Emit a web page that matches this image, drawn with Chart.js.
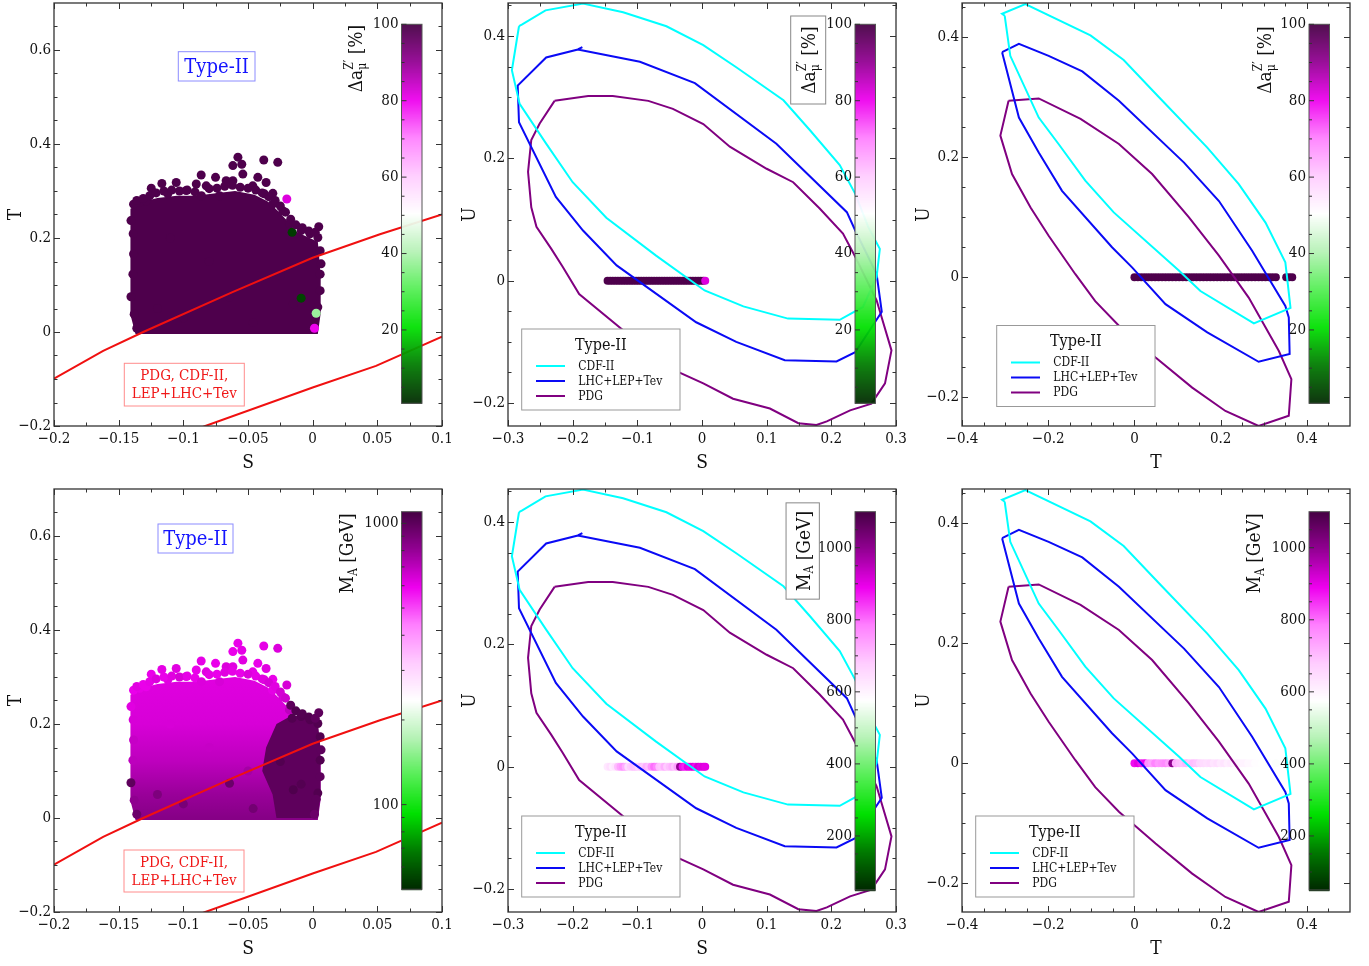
<!DOCTYPE html>
<html>
<head>
<meta charset="utf-8">
<script src="https://cdn.jsdelivr.net/npm/chart.js@4.4.1/dist/chart.umd.min.js"></script>
<style>
html, body { margin: 0; padding: 0; background: #fff; width: 1369px; height: 966px; overflow: hidden; }
canvas { position: absolute; }
</style>
</head>
<body>
<canvas id="p1"></canvas>
<canvas id="p2"></canvas>
<canvas id="p3"></canvas>
<canvas id="p4"></canvas>
<canvas id="p5"></canvas>
<canvas id="p6"></canvas>
<script>
// ---- data ----

// S-T plane: the two red constraint lines
var st1S = [-0.2, -0.162, -0.131, -0.062, 0.0, 0.052, 0.1];
var st1T = [-0.099, -0.040, 0.0, 0.085, 0.158, 0.208, 0.25];
var st2S = [-0.09, -0.083, 0.0, 0.049, 0.1];
var st2T = [-0.207, -0.200, -0.118, -0.072, -0.010];

// S-U plane contours
var cdfSU_S = [-0.283, -0.278, -0.242, -0.184, -0.122, -0.055, 0.002, 0.053, 0.126, 0.167, 0.213, 0.237, 0.257, 0.275, 0.270, 0.249, 0.213, 0.133, 0.064, 0.004, -0.071, -0.148, -0.200, -0.241, -0.282, -0.294, -0.283];
var cdfSU_U = [0.416, 0.419, 0.442, 0.453, 0.439, 0.416, 0.385, 0.349, 0.295, 0.246, 0.189, 0.142, 0.088, 0.052, 0.006, -0.043, -0.064, -0.062, -0.042, -0.016, 0.041, 0.103, 0.161, 0.224, 0.289, 0.344, 0.416];
var lhcSU_S = [-0.185, -0.192, -0.241, -0.285, -0.283, -0.226, -0.184, -0.132, -0.009, 0.053, 0.128, 0.208, 0.237, 0.278, 0.270, 0.237, 0.224, 0.115, -0.011, -0.096, -0.192];
var lhcSU_U = [0.382, 0.378, 0.365, 0.319, 0.259, 0.137, 0.082, 0.025, -0.068, -0.100, -0.130, -0.132, -0.117, -0.051, 0.011, 0.082, 0.112, 0.224, 0.323, 0.358, 0.378];
var pdgSU_S = [-0.228, -0.176, -0.138, -0.083, -0.045, 0.002, 0.043, 0.100, 0.141, 0.182, 0.218, 0.237, 0.270, 0.293, 0.283, 0.262, 0.229, 0.193, 0.177, 0.149, 0.105, 0.048, 0.002, -0.071, -0.122, -0.190, -0.215, -0.233, -0.256, -0.264, -0.269, -0.264, -0.251, -0.228];
var pdgSU_U = [0.294, 0.302, 0.302, 0.294, 0.281, 0.256, 0.219, 0.183, 0.161, 0.118, 0.077, 0.039, -0.032, -0.114, -0.168, -0.201, -0.212, -0.230, -0.236, -0.233, -0.209, -0.193, -0.168, -0.133, -0.081, -0.022, 0.022, 0.052, 0.088, 0.120, 0.178, 0.230, 0.257, 0.294];

// T-U plane contours
var cdfTU_T = [-0.301, -0.307, -0.253, -0.102, -0.025, 0.057, 0.169, 0.242, 0.304, 0.350, 0.362, 0.277, 0.153, 0.103, -0.048, -0.114, -0.176, -0.222, -0.288, -0.301];
var cdfTU_U = [0.436, 0.439, 0.455, 0.403, 0.362, 0.300, 0.216, 0.155, 0.091, 0.025, -0.051, -0.077, -0.023, 0.011, 0.108, 0.161, 0.222, 0.266, 0.369, 0.436];
var lhcTU_T = [-0.307, -0.268, -0.199, -0.121, -0.036, 0.115, 0.196, 0.273, 0.350, 0.358, 0.360, 0.288, 0.169, 0.072, -0.005, -0.052, -0.168, -0.222, -0.268, -0.307];
var lhcTU_U = [0.375, 0.389, 0.369, 0.343, 0.294, 0.191, 0.127, 0.044, -0.048, -0.067, -0.128, -0.141, -0.092, -0.045, 0.016, 0.050, 0.144, 0.208, 0.266, 0.375];
var pdgTU_T = [-0.292, -0.222, -0.125, -0.036, 0.041, 0.126, 0.196, 0.265, 0.335, 0.364, 0.358, 0.288, 0.211, 0.134, 0.049, -0.036, -0.091, -0.137, -0.199, -0.241, -0.284, -0.311, -0.292];
var pdgTU_U = [0.294, 0.298, 0.264, 0.222, 0.172, 0.100, 0.036, -0.034, -0.123, -0.170, -0.231, -0.248, -0.223, -0.184, -0.134, -0.081, -0.040, 0.005, 0.069, 0.116, 0.172, 0.236, 0.294];

// dense body of the scan points in the S-T plane (outline), and its dark right part (M_A panel)
var blobS = [-0.1370, -0.1412, -0.1410, -0.1412, -0.1405, -0.1330, -0.1200, -0.1050, -0.0900, -0.0750, -0.0600, -0.0450, -0.0350, -0.0270, -0.0200, -0.0120, -0.0040, 0.0040, 0.0062, 0.0062, 0.0040, -0.1370];
var blobT = [-0.004, 0.040, 0.120, 0.200, 0.262, 0.276, 0.285, 0.290, 0.290, 0.295, 0.300, 0.292, 0.278, 0.258, 0.238, 0.212, 0.202, 0.192, 0.120, 0.040, -0.004, -0.004];
var darkS = [-0.028, -0.031, -0.039, -0.036, -0.028, -0.020, -0.012, -0.004, 0.004, 0.006, 0.006, 0.004, -0.028];
var darkT = [0.000, 0.050, 0.100, 0.150, 0.200, 0.212, 0.218, 0.214, 0.205, 0.150, 0.050, 0.000, 0.000];
var gradT = [0.37, 0.20, 0.12, 0.05, 0.0];
var gradMa = [610, 640, 700, 790, 850];

// individual scan points (ragged edges, outliers)
var ptS = [-0.0578, -0.0617, -0.0548, -0.0378, -0.0270, -0.0862, -0.0751, -0.0540, -0.0424, -0.0360, -0.1248, -0.1166, -0.1055, -0.0900, -0.0669, -0.0373, -0.0308, -0.0200, -0.0231, -0.0310,
    -0.0180, -0.0089, -0.0020, 0.0047, 0.0040, 0.0058, 0.0065, 0.0058, 0.0058, 0.0040, 0.0027, 0.0014, -0.1385, -0.1405, -0.1388, -0.1385, -0.1390, -0.1405, -0.1380, -0.1360,
    -0.1338, -0.1287, -0.1120, -0.0978, -0.0823, -0.0720, -0.0617, -0.0463, -0.0159, -0.0089, -0.0643, -0.1200, -0.1000, -0.0460, -0.0800, -0.1100, -0.0500, -0.0250, -0.0150,
    -0.1360, -0.1310, -0.1260, -0.1210, -0.1150, -0.1090, -0.1030, -0.0970, -0.0910, -0.0860, -0.0800, -0.0740, -0.0680, -0.0620, -0.0560, -0.0500, -0.0440, -0.0390, -0.0340,
    -0.0290, -0.0250, -0.0210, -0.0170, -0.0130, -0.0080, -0.0030, 0.0020];
var ptT = [0.372, 0.354, 0.357, 0.366, 0.361, 0.334, 0.329, 0.336, 0.329, 0.318, 0.306, 0.316, 0.318, 0.315, 0.322, 0.294, 0.295, 0.283, 0.258, 0.272,
    0.230, 0.216, 0.209, 0.224, 0.201, 0.173, 0.145, 0.123, 0.088, 0.053, 0.040, 0.008, 0.272, 0.237, 0.209, 0.166, 0.123, 0.075, 0.038, 0.008,
    0.276, 0.279, 0.294, 0.301, 0.311, 0.290, 0.322, 0.311, 0.212, 0.072, 0.074, 0.050, 0.030, 0.020, 0.150, 0.200, 0.100, 0.120, 0.060,
    0.280, 0.284, 0.290, 0.296, 0.300, 0.302, 0.300, 0.302, 0.298, 0.290, 0.305, 0.306, 0.310, 0.312, 0.308, 0.306, 0.302, 0.296, 0.288,
    0.280, 0.268, 0.255, 0.240, 0.228, 0.222, 0.215, 0.212];
var ptDz = [99, 99, 99, 99, 99, 99, 99, 99, 99, 99, 99, 99, 99, 99, 99, 99, 99, 82, 99, 99,
    99, 99, 99, 99, 99, 99, 99, 99, 99, 99, 38, 80, 99, 99, 99, 99, 99, 99, 99, 99,
    99, 99, 99, 99, 99, 99, 99, 99, 3, 4, 99, 99, 99, 99, 99, 99, 99, 99, 99,
    99, 99, 99, 99, 99, 99, 99, 99, 99, 99, 99, 99, 99, 99, 99, 99, 99, 99, 99,
    99, 99, 99, 99, 99, 99, 99, 99];
var ptMa = [600, 600, 610, 610, 630, 610, 600, 620, 600, 620, 600, 610, 620, 600, 630, 620, 600, 640, 640, 610,
    700, 1050, 1050, 1000, 1050, 1050, 1000, 1050, 1000, 1050, 1000, 950, 600, 620, 640, 680, 700, 1000, 820, 950,
    610, 600, 620, 610, 620, 640, 620, 610, 1050, 1040, 950, 880, 900, 920, 680, 640, 760, 1050, 1060,
    620, 600, 610, 630, 600, 620, 640, 610, 600, 630, 610, 600, 620, 610, 600, 630, 610, 620, 640,
    620, 650, 660, 1000, 1050, 1040, 1050, 1000];

// the same scan projected on U = 0
var stripS = [-0.146, -0.142, -0.138, -0.134, -0.130, -0.126, -0.122, -0.118, -0.114, -0.110, -0.106, -0.102, -0.098, -0.094, -0.090, -0.086, -0.082, -0.078, -0.074, -0.070,
    -0.066, -0.062, -0.058, -0.054, -0.050, -0.046, -0.042, -0.038, -0.034, -0.030, -0.026, -0.022, -0.018, -0.014, -0.010, -0.006, -0.002, 0.002, 0.005];
var stripSU = [0, 0, 0, 0, 0, 0, 0, 0, 0, 0, 0, 0, 0, 0, 0, 0, 0, 0, 0, 0,
    0, 0, 0, 0, 0, 0, 0, 0, 0, 0, 0, 0, 0, 0, 0, 0, 0, 0, 0];
var stripSDz = [99, 99, 99, 99, 99, 99, 99, 99, 99, 99, 99, 99, 99, 99, 99, 99, 99, 99, 99, 99,
    99, 99, 99, 99, 99, 99, 99, 99, 99, 99, 99, 99, 99, 99, 99, 99, 99, 99, 82];
var stripSMa = [620, 640, 610, 630, 700, 740, 760, 720, 650, 680, 700, 690, 660, 700, 680, 720, 700, 760, 800, 780,
    700, 690, 720, 680, 700, 720, 690, 740, 1000, 880, 860, 900, 890, 910, 880, 920, 900, 910, 900];
var stripT = [0.000, 0.008, 0.016, 0.024, 0.032, 0.040, 0.048, 0.056, 0.064, 0.072, 0.080, 0.088, 0.096, 0.104, 0.112, 0.120, 0.128, 0.136, 0.144, 0.152,
    0.160, 0.168, 0.176, 0.184, 0.192, 0.200, 0.208, 0.216, 0.224, 0.232, 0.240, 0.248, 0.256, 0.264, 0.272, 0.280, 0.288, 0.296, 0.304, 0.312,
    0.320, 0.328, 0.352, 0.359, 0.366];
var stripTU = [0, 0, 0, 0, 0, 0, 0, 0, 0, 0, 0, 0, 0, 0, 0, 0, 0, 0, 0, 0,
    0, 0, 0, 0, 0, 0, 0, 0, 0, 0, 0, 0, 0, 0, 0, 0, 0, 0, 0, 0, 0, 0, 0, 0, 0];
var stripTDz = [99, 99, 99, 99, 99, 99, 99, 99, 99, 99, 99, 99, 99, 99, 99, 99, 99, 99, 99, 99,
    99, 99, 99, 99, 99, 99, 99, 99, 99, 99, 99, 99, 99, 99, 99, 99, 99, 99, 99, 99, 99, 99, 99, 99, 99];
var stripTMa = [880, 900, 870, 890, 760, 740, 780, 750, 760, 770, 740, 1000, 720, 700, 690, 710, 680, 700, 690, 660,
    650, 640, 650, 630, 640, 620, 630, 610, 620, 600, 610, 600, 600, 590, 590, 580, 580, 575, 575, 570,
    575, 570, 575, 575, 570];

// axis ticks
var sTicksA = [-0.2, -0.15, -0.1, -0.05, 0, 0.05, 0.1];
var sMinorA = [-0.175, -0.125, -0.075, -0.025, 0.025, 0.075];
var tTicksA = [-0.2, 0, 0.2, 0.4, 0.6];
var tMinorA = [-0.15, -0.1, -0.05, 0.05, 0.1, 0.15, 0.25, 0.3, 0.35, 0.45, 0.5, 0.55, 0.65];
var sTicksB = [-0.3, -0.2, -0.1, 0, 0.1, 0.2, 0.3];
var sMinorB = [-0.25, -0.15, -0.05, 0.05, 0.15, 0.25];
var uTicks = [-0.2, 0, 0.2, 0.4];
var uMinor = [-0.15, -0.1, -0.05, 0.05, 0.1, 0.15, 0.25, 0.3, 0.35, 0.45];
var tTicksC = [-0.4, -0.2, 0, 0.2, 0.4];
var tMinorC = [-0.35, -0.3, -0.25, -0.15, -0.1, -0.05, 0.05, 0.1, 0.15, 0.25, 0.3, 0.35, 0.45];

// colorbars
var dzTicks = [20, 40, 60, 80, 100];
var dzMinor = [5, 10, 15, 25, 30, 35, 45, 50, 55, 65, 70, 75, 85, 90, 95];
var maLogTicks = [100, 1000];
var maLogMinor = [60, 70, 80, 90, 200, 300, 400, 500, 600, 700, 800, 900];
var maLinTicks = [200, 400, 600, 800, 1000];
var maLinMinor = [100, 150, 250, 300, 350, 450, 500, 550, 650, 700, 750, 850, 900, 950, 1050];
var dzMin = 0.8, dzMax = 100, maMin = 50, maMax = 1100;

// ---- drawing ----
var FAM = "'DejaVu Serif Condensed', 'DejaVu Serif', serif";
function font(sz) { return sz + "px " + FAM; }
Chart.defaults.font.family = FAM;
var INK = '#111';

var cmapStops = [
    [0.0, [0, 42, 0]], [0.1, [0, 122, 0]], [0.2, [0, 224, 0]], [0.3, [85, 238, 85]],
    [0.4, [181, 242, 181]], [0.5, [255, 255, 255]], [0.6, [255, 204, 255]],
    [0.7, [255, 128, 255]], [0.8, [238, 0, 238]], [0.9, [147, 0, 147]], [1.0, [70, 0, 68]]
];
function cmap(f) {
    f = Math.max(0, Math.min(1, f));
    for (var i = 1; i < cmapStops.length; i++) {
        if (f <= cmapStops[i][0]) {
            var a = cmapStops[i - 1], b = cmapStops[i];
            var t = (f - a[0]) / (b[0] - a[0]);
            var c = [0, 1, 2].map(function (k) { return Math.round(a[1][k] + (b[1][k] - a[1][k]) * t); });
            return 'rgb(' + c.join(',') + ')';
        }
    }
    return 'rgb(70,0,68)';
}
function normDz(v) { return (v - dzMin) / (dzMax - dzMin); }
function normMaLog(v) { return (Math.log(v) - Math.log(maMin)) / (Math.log(maMax) - Math.log(maMin)); }
function normMaLin(v) { return (v - maMin) / (maMax - maMin); }

function xy(xs, ys) { return xs.map(function (x, i) { return { x: x, y: ys[i] }; }); }
function fmt(v) {
    if (Math.abs(v) < 1e-9) return '0';
    return String(Math.round(v * 1000) / 1000).replace('-', '\u2212');
}

function lineDs(xs, ys, color, label) {
    return { label: label, legend: !!label, data: xy(xs, ys), showLine: true, borderColor: color,
        borderWidth: 2, pointRadius: 0, fill: false, tension: 0, order: 1 };
}
function ptsDs(xs, ys, colors, r) {
    return { data: xy(xs, ys), showLine: false, pointRadius: r, pointBackgroundColor: colors,
        pointBorderWidth: 0, pointBorderColor: colors, order: 3 };
}
function areaDs(xs, ys, bg, order) {
    return { data: xy(xs, ys), showLine: true, borderWidth: 0, borderColor: 'rgba(0,0,0,0)',
        backgroundColor: bg, fill: 'shape', pointRadius: 0, tension: 0, order: order };
}
function gradBg(context) {
    var ch = context.chart;
    if (!ch.chartArea || !ch.scales.y) return cmap(normMaLog(gradMa[1]));
    var y = ch.scales.y;
    var y0 = y.getPixelForValue(gradT[0]), y1 = y.getPixelForValue(gradT[gradT.length - 1]);
    var g = ch.ctx.createLinearGradient(0, y0, 0, y1);
    gradT.forEach(function (t, i) {
        g.addColorStop((y.getPixelForValue(t) - y0) / (y1 - y0), cmap(normMaLog(gradMa[i])));
    });
    return g;
}

function axisOpts(min, max, ticks, title, isX) {
    return {
        type: 'linear', min: min, max: max, position: isX ? 'bottom' : 'left',
        grid: { display: false, drawTicks: false }, border: { display: false },
        ticks: { font: { family: FAM, size: 15 }, color: INK, padding: isX ? 4 : 3,
            maxRotation: 0, autoSkip: false, callback: fmt },
        afterBuildTicks: function (s) { s.ticks = ticks.map(function (v) { return { value: v }; }); },
        afterFit: function (s) { if (isX) s.height = 52; else s.width = 55; },
        title: { display: true, text: title, color: INK, font: { family: FAM, size: 19 },
            padding: isX ? { top: 0, bottom: 3.6 } : { top: 5.6, bottom: 0 } }
    };
}

function seg(c, x1, y1, x2, y2) { c.beginPath(); c.moveTo(x1, y1); c.lineTo(x2, y2); c.stroke(); }

function drawCbTitle(c, a, cb) {
    var cx = a.left + cb.tcx, cy = a.top + cb.tcy;
    if (cb.box) {
        c.fillStyle = '#fff';
        c.fillRect(cx - cb.box[0] / 2, cy - cb.box[1] / 2, cb.box[0], cb.box[1]);
        c.strokeStyle = '#888'; c.lineWidth = 1;
        c.strokeRect(cx - cb.box[0] / 2, cy - cb.box[1] / 2, cb.box[0], cb.box[1]);
    }
    c.save();
    c.translate(cx, cy); c.rotate(-Math.PI / 2);
    c.fillStyle = INK; c.textBaseline = 'alphabetic'; c.textAlign = 'left';
    var S = 19, s = 12, yb = S * 0.36;
    var main = cb.title === 'dz' ? 'Δa' : 'M';
    var sup = cb.title === 'dz' ? 'Z\u2032' : '';
    var sub = cb.title === 'dz' ? 'μ' : 'A';
    var tail = cb.title === 'dz' ? ' [%]' : ' [GeV]';
    c.font = font(S); var w1 = c.measureText(main).width, w3 = c.measureText(tail).width;
    c.font = font(s); var w2 = Math.max(c.measureText(sup).width, c.measureText(sub).width);
    var x = -(w1 + w2 + w3) / 2;
    c.font = font(S); c.fillText(main, x, yb); x += w1;
    c.font = font(s);
    if (sup) c.fillText(sup, x, yb - S * 0.48);
    c.fillText(sub, x, yb + S * 0.2); x += w2;
    c.font = font(S); c.fillText(tail, x, yb);
    c.restore();
}

function drawColorbar(c, a, cb) {
    var L = a.left + cb.dx, T = a.top + cb.top, B = a.top + cb.bottom, W = 20.5, H = B - T;
    for (var yy = 0; yy < H; yy++) {
        c.fillStyle = cmap((H - yy - 0.5) / H);
        c.fillRect(L, T + yy, W, 1.5);
    }
    c.strokeStyle = '#555'; c.lineWidth = 1; c.strokeRect(L, T, W, H);
    function yv(v) { return B - cb.norm(v) * H; }
    c.strokeStyle = '#333';
    cb.minor.forEach(function (v) { seg(c, L, yv(v), L + 3, yv(v)); });
    cb.major.forEach(function (v) { seg(c, L, yv(v), L + 5, yv(v)); });
    c.font = font(15); c.fillStyle = INK; c.textAlign = 'right'; c.textBaseline = 'middle';
    cb.major.forEach(function (v) { c.fillText(String(v), L - 3, yv(v)); });
    drawCbTitle(c, a, cb);
}

function drawLegend(c, a, chart, lg) {
    var L = a.left + lg.dx, T = a.top + lg.dy, W = 158.3, H = 81;
    c.fillStyle = '#fff'; c.fillRect(L, T, W, H);
    c.strokeStyle = '#999'; c.lineWidth = 1; c.strokeRect(L, T, W, H);
    c.fillStyle = INK; c.textAlign = 'center'; c.textBaseline = 'middle';
    c.font = font(16); c.fillText('Type-II', L + W / 2, T + 16.5);
    var items = chart.data.datasets.filter(function (d) { return d.legend; });
    c.font = font(12); c.textAlign = 'left';
    items.forEach(function (d, i) {
        var y = T + 37 + i * 15;
        c.strokeStyle = d.borderColor; c.lineWidth = 2; seg(c, L + 14.3, y, L + 43.3, y);
        c.fillStyle = INK; c.fillText(d.label, L + 56.6, y + 0.5);
    });
}

function drawBoxes(c, a, ex) {
    if (ex.typeBox) {
        var b = ex.typeBox;
        c.fillStyle = '#fff'; c.fillRect(a.left + b[0], a.top + b[1], b[2], b[3]);
        c.strokeStyle = '#8c8cff'; c.lineWidth = 1; c.strokeRect(a.left + b[0], a.top + b[1], b[2], b[3]);
        c.fillStyle = '#1414ff'; c.font = font(20); c.textAlign = 'center'; c.textBaseline = 'middle';
        c.fillText('Type-II', a.left + b[0] + b[2] / 2, a.top + b[1] + b[3] / 2 + 1);
    }
    if (ex.redBox) {
        var r = ex.redBox;
        c.fillStyle = '#fff'; c.fillRect(a.left + r[0], a.top + r[1], r[2], r[3]);
        c.strokeStyle = '#ff8c8c'; c.lineWidth = 1; c.strokeRect(a.left + r[0], a.top + r[1], r[2], r[3]);
        c.fillStyle = '#f01818'; c.font = font(15); c.textAlign = 'center'; c.textBaseline = 'middle';
        c.fillText('PDG, CDF-II,', a.left + r[0] + r[2] / 2, a.top + r[1] + 13);
        c.fillText('LEP+LHC+Tev', a.left + r[0] + r[2] / 2, a.top + r[1] + 31);
    }
}

function decor(ex) {
    return {
        id: 'decor',
        afterDraw: function (chart) {
            var c = chart.ctx, a = chart.chartArea, sx = chart.scales.x, sy = chart.scales.y;
            c.save();
            c.strokeStyle = '#333'; c.lineWidth = 1;
            function xt(vals, len) {
                vals.forEach(function (v) {
                    var p = Math.round(sx.getPixelForValue(v)) + 0.5;
                    seg(c, p, a.bottom, p, a.bottom - len); seg(c, p, a.top, p, a.top + len);
                });
            }
            function yt(vals, len) {
                vals.forEach(function (v) {
                    var p = Math.round(sy.getPixelForValue(v)) + 0.5;
                    seg(c, a.left, p, a.left + len, p); seg(c, a.right, p, a.right - len, p);
                });
            }
            xt(ex.xMajor, 6); xt(ex.xMinor, 3.5); yt(ex.yMajor, 6); yt(ex.yMinor, 3.5);
            c.strokeStyle = '#333'; c.lineWidth = 1.3;
            c.strokeRect(a.left, a.top, a.right - a.left, a.bottom - a.top);
            drawBoxes(c, a, ex);
            if (ex.legend) drawLegend(c, a, chart, ex.legend);
            if (ex.cb) drawColorbar(c, a, ex.cb);
            c.restore();
        }
    };
}

function makeChart(id, left, top, xr, yr, xTitle, yTitle, datasets, ex) {
    var cv = document.getElementById(id);
    var W = 55 + 388 + 16, H = 12 + 423 + 52;
    cv.width = W; cv.height = H;
    cv.style.width = W + 'px'; cv.style.height = H + 'px';
    cv.style.left = (left - 55) + 'px'; cv.style.top = (top - 12) + 'px';
    return new Chart(cv.getContext('2d'), {
        type: 'scatter',
        data: { datasets: datasets },
        options: {
            responsive: false, animation: false, devicePixelRatio: 1, events: [],
            layout: { padding: { left: 0, top: 12, right: 16, bottom: 0 } },
            plugins: { legend: { display: false }, tooltip: { enabled: false } },
            scales: {
                x: axisOpts(xr[0], xr[1], ex.xMajor, xTitle, true),
                y: axisOpts(yr[0], yr[1], ex.yMajor, yTitle, false)
            }
        },
        plugins: [decor(ex)]
    });
}

var RED = '#f01010', CYAN = '#00ffff', BLUE = '#0a0af5', PURPLE = '#800080';
function contourSets(cx, cy, lx, ly, px, py) {
    return [lineDs(cx, cy, CYAN, 'CDF-II'), lineDs(lx, ly, BLUE, 'LHC+LEP+Tev'), lineDs(px, py, PURPLE, 'PDG')];
}
var dzCol = function (v) { return cmap(normDz(v)); };
var maLogCol = function (v) { return cmap(normMaLog(v)); };
var maLinCol = function (v) { return cmap(normMaLin(v)); };

var cbDz = { norm: normDz, major: dzTicks, minor: dzMinor, title: 'dz' };
function cbWith(base, extra) { var o = {}; for (var k in base) o[k] = base[k]; for (var j in extra) o[j] = extra[j]; return o; }

// top row: colour = Delta a_mu^Z'
makeChart('p1', 54, 3, [-0.2, 0.1], [-0.2, 0.7], 'S', 'T', [
    lineDs(st1S, st1T, RED), lineDs(st2S, st2T, RED),
    ptsDs(ptS, ptT, ptDz.map(dzCol), 4.5),
    areaDs(blobS, blobT, dzCol(99), 5)
], { xMajor: sTicksA, xMinor: sMinorA, yMajor: tTicksA, yMinor: tMinorA,
     typeBox: [124.3, 48.7, 76.7, 29.3], redBox: [70.3, 360.3, 120, 42.7],
     cb: cbWith(cbDz, { dx: 347.5, top: 21.3, bottom: 400.3, tcx: 301, tcy: 55.5 }) });

makeChart('p2', 508, 3, [-0.3, 0.3], [-0.2376, 0.454], 'S', 'U',
    contourSets(cdfSU_S, cdfSU_U, lhcSU_S, lhcSU_U, pdgSU_S, pdgSU_U).concat([
        ptsDs(stripS, stripSU, stripSDz.map(dzCol), 4)
    ]),
    { xMajor: sTicksB, xMinor: sMinorB, yMajor: uTicks, yMinor: uMinor,
      legend: { dx: 13.7, dy: 326 },
      cb: cbWith(cbDz, { dx: 347, top: 21.3, bottom: 400.3, tcx: 300.2, tcy: 57, box: [35, 88] }) });

makeChart('p3', 962, 3, [-0.4, 0.5], [-0.248, 0.457], 'T', 'U',
    contourSets(cdfTU_T, cdfTU_U, lhcTU_T, lhcTU_U, pdgTU_T, pdgTU_U).concat([
        ptsDs(stripT, stripTU, stripTDz.map(dzCol), 4)
    ]),
    { xMajor: tTicksC, xMinor: tMinorC, yMajor: uTicks, yMinor: uMinor,
      legend: { dx: 34.7, dy: 322.5 },
      cb: cbWith(cbDz, { dx: 347, top: 21.3, bottom: 400.3, tcx: 302, tcy: 57 }) });

// bottom row: colour = M_A
makeChart('p4', 54, 489, [-0.2, 0.1], [-0.2, 0.7], 'S', 'T', [
    lineDs(st1S, st1T, RED), lineDs(st2S, st2T, RED),
    ptsDs(ptS, ptT, ptMa.map(maLogCol), 4.5),
    areaDs(darkS, darkT, maLogCol(1000), 4),
    areaDs(blobS, blobT, gradBg, 5)
], { xMajor: sTicksA, xMinor: sMinorA, yMajor: tTicksA, yMinor: tMinorA,
     typeBox: [104, 35, 75, 29], redBox: [70, 361, 120, 42],
     cb: { norm: normMaLog, major: maLogTicks, minor: maLogMinor, title: 'ma',
           dx: 347.5, top: 22.7, bottom: 400.3, tcx: 292.5, tcy: 64.5 } });

makeChart('p5', 508, 489, [-0.3, 0.3], [-0.2376, 0.454], 'S', 'U',
    contourSets(cdfSU_S, cdfSU_U, lhcSU_S, lhcSU_U, pdgSU_S, pdgSU_U).concat([
        ptsDs(stripS, stripSU, stripSMa.map(maLinCol), 4)
    ]),
    { xMajor: sTicksB, xMinor: sMinorB, yMajor: uTicks, yMinor: uMinor,
      legend: { dx: 13.7, dy: 327 },
      cb: { norm: normMaLin, major: maLinTicks, minor: maLinMinor, title: 'ma',
            dx: 347, top: 22.7, bottom: 401, tcx: 294.7, tcy: 62, box: [33.3, 96.3] } });

makeChart('p6', 962, 489, [-0.4, 0.5], [-0.248, 0.457], 'T', 'U',
    contourSets(cdfTU_T, cdfTU_U, lhcTU_T, lhcTU_U, pdgTU_T, pdgTU_U).concat([
        ptsDs(stripT, stripTU, stripTMa.map(maLinCol), 4)
    ]),
    { xMajor: tTicksC, xMinor: tMinorC, yMajor: uTicks, yMinor: uMinor,
      legend: { dx: 13.7, dy: 327 },
      cb: { norm: normMaLin, major: maLinTicks, minor: maLinMinor, title: 'ma',
            dx: 347, top: 22.7, bottom: 401, tcx: 291.5, tcy: 64.5 } });
</script>
</body>
</html>
